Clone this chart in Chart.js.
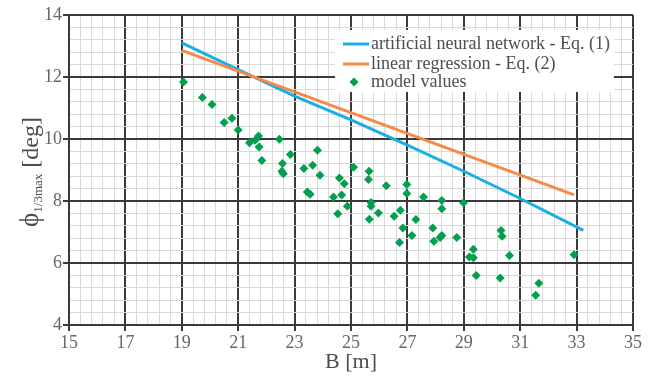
<!DOCTYPE html>
<html>
<head>
<meta charset="utf-8">
<script src="https://cdn.jsdelivr.net/npm/chart.js@4.4.1/dist/chart.umd.min.js"></script>
<style>
  html, body { margin: 0; background: #fff; }
  #wrap { width: 651px; height: 376px; }
</style>
</head>
<body>
<div id="wrap"><canvas id="chart" width="651" height="376"></canvas></div>
<script>
// Neural-network fit, Eq. (1)
const annB = [19, 21, 23, 25, 27, 29, 31, 33.24];
const annPhi = [13.10, 12.24, 11.38, 10.62, 9.80, 8.96, 8.08, 7.05];

// Linear regression, Eq. (2)
const regB = [19, 32.91];
const regPhi = [12.86, 8.20];

// Model values
const modelB = [
  19.06, 19.73, 20.07, 20.50, 20.78, 21.00, 21.40, 21.60, 21.72, 21.74,
  21.84, 22.46, 22.85, 22.57, 22.55, 22.60, 23.33, 23.81, 23.64, 23.90,
  24.59, 24.76, 25.09, 25.64, 25.62, 26.25, 26.98, 23.45, 23.55, 24.38,
  24.67, 24.87, 24.53, 25.71, 25.71, 25.97, 25.65, 26.98, 27.57, 26.75,
  26.53, 27.30, 26.84, 27.16, 26.72, 28.22, 28.22, 27.90, 27.94, 28.22,
  28.16, 28.75, 28.99, 29.34, 29.20, 29.34, 29.44, 30.32, 30.36, 30.62,
  30.29, 31.66, 31.55, 32.91
];
const modelPhi = [
  11.84, 11.34, 11.11, 10.53, 10.67, 10.29, 9.88, 9.96, 10.10, 9.74,
  9.31, 9.99, 9.50, 9.21, 8.96, 8.88, 9.05, 9.64, 9.15, 8.83,
  8.74, 8.56, 9.09, 8.96, 8.69, 8.49, 8.53, 8.29, 8.22, 8.13,
  8.19, 7.83, 7.59, 7.95, 7.83, 7.61, 7.41, 8.24, 8.13, 7.70,
  7.51, 7.40, 7.13, 6.89, 6.66, 8.02, 7.75, 7.13, 6.70, 6.89,
  6.82, 6.82, 7.94, 6.44, 6.19, 6.17, 5.60, 7.05, 6.86, 6.24,
  5.52, 5.35, 4.96, 6.27
];

const majorX = [15, 17, 19, 21, 23, 25, 27, 29, 31, 33, 35];
const majorY = [4, 6, 8, 10, 12, 14];

const SERIF = "'Liberation Serif', 'DejaVu Serif', serif";
const MAJOR = '#3a3a3a';
const MINOR = '#d9d9d9';

const isOn = ( list, v ) => list.some( ( m ) => Math.abs( m - v ) < 1e-6 );
const pts = ( xs, ys ) => xs.map( ( x, i ) => ( { x, y: ys[ i ] } ) );

function axis( list, pad, extra ) {
	return Object.assign( {
		type: 'linear',
		ticks: {
			stepSize: 0.4,
			autoSkip: false,
			maxRotation: 0,
			padding: pad,
			color: '#666',
			font: { family: SERIF, size: 18 },
			callback: ( v ) => ( isOn( list, v ) ? String( Math.round( v ) ) : '' ),
		},
		grid: {
			color: ( c ) => ( isOn( list, c.tick.value ) ? MAJOR : MINOR ),
			lineWidth: ( c ) => ( isOn( list, c.tick.value ) ? 2 : 1 ),
			tickColor: ( c ) => ( isOn( list, c.tick.value ) ? MAJOR : 'rgba(0,0,0,0)' ),
			tickLength: 6,
		},
		border: { display: true, color: MAJOR, width: 2 },
	}, extra );
}

// Legend box inside the plot, like the original figure.
const boxLegend = {
	id: 'boxLegend',
	afterDatasetsDraw( chart ) {
		const ctx = chart.ctx;
		const rows = [ 44, 64, 82 ];
		ctx.save();
		ctx.fillStyle = '#fff';
		ctx.fillRect( 335, 30, 279, 62 );
		ctx.font = '18px ' + SERIF;
		ctx.textBaseline = 'middle';
		chart.data.datasets.forEach( ( ds, i ) => {
			const y = rows[ i ];
			if ( ds.showLine ) {
				ctx.strokeStyle = ds.borderColor;
				ctx.lineWidth = 3;
				ctx.beginPath();
				ctx.moveTo( 343, y );
				ctx.lineTo( 369, y );
				ctx.stroke();
			} else {
				ctx.fillStyle = ds.backgroundColor;
				ctx.beginPath();
				ctx.moveTo( 354, y - 4.5 );
				ctx.lineTo( 358.5, y );
				ctx.lineTo( 354, y + 4.5 );
				ctx.lineTo( 349.5, y );
				ctx.closePath();
				ctx.fill();
			}
			ctx.fillStyle = '#4d4d4d';
			ctx.fillText( ds.label, 371, y );
		} );
		ctx.restore();
	},
};

// Y title with the "1/3max" subscript.
const yTitle = {
	id: 'yTitle',
	afterDraw( chart ) {
		const ctx = chart.ctx;
		const parts = [
			[ 'ϕ', '27px ' + SERIF, 0 ],
			[ '1/3max', '13px ' + SERIF, 4 ],
			[ ' [deg]', '24px ' + SERIF, 0 ],
		];
		ctx.save();
		ctx.translate( 38, 172 );
		ctx.rotate( -Math.PI / 2 );
		ctx.fillStyle = '#4d4d4d';
		ctx.textBaseline = 'alphabetic';
		let total = 0;
		parts.forEach( ( p ) => { ctx.font = p[ 1 ]; total += ctx.measureText( p[ 0 ] ).width; } );
		let x = -total / 2;
		parts.forEach( ( p ) => {
			ctx.font = p[ 1 ];
			ctx.fillText( p[ 0 ], x, p[ 2 ] );
			x += ctx.measureText( p[ 0 ] ).width;
		} );
		ctx.restore();
	},
};

new Chart( document.getElementById( 'chart' ), {
	type: 'scatter',
	data: {
		datasets: [
			{
				label: 'artificial neural network - Eq. (1)',
				data: pts( annB, annPhi ),
				showLine: true,
				borderColor: '#1aaee8',
				borderWidth: 3,
				pointRadius: 0,
				order: 2,
			},
			{
				label: 'linear regression - Eq. (2)',
				data: pts( regB, regPhi ),
				showLine: true,
				borderColor: '#f58a46',
				borderWidth: 3,
				pointRadius: 0,
				order: 1,
			},
			{
				label: 'model values',
				data: pts( modelB, modelPhi ),
				showLine: false,
				pointStyle: 'rectRot',
				pointRadius: 4.5,
				backgroundColor: '#00a04e',
				borderWidth: 0,
				order: 0,
			},
		],
	},
	options: {
		responsive: false,
		animation: false,
		layout: { padding: { left: 0, right: 18, top: 15, bottom: 0 } },
		plugins: { legend: { display: false }, tooltip: { enabled: false } },
		scales: {
			x: axis( majorX, 1, {
				min: 15,
				max: 35,
				title: { display: true, text: 'B [m]', color: '#4d4d4d', font: { family: SERIF, size: 22 }, padding: { top: 0, bottom: 1 } },
				afterFit: ( s ) => { s.height = 51; },
			} ),
			y: axis( majorY, 1, {
				min: 4,
				max: 14,
				afterFit: ( s ) => { s.width = 69; },
			} ),
		},
	},
	plugins: [ boxLegend, yTitle ],
} );
</script>
</body>
</html>
